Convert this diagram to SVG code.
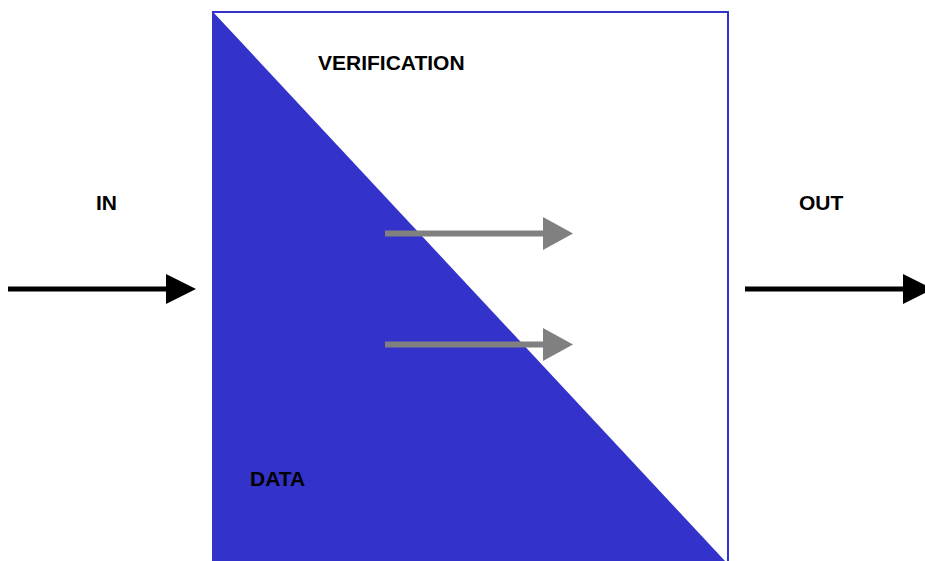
<svg xmlns="http://www.w3.org/2000/svg" width="925" height="561" viewBox="0 0 925 561">
<defs>
<style>
.lbl{font-family:"Liberation Sans",Arial,sans-serif;font-weight:bold;font-size:21px;fill:#000}
.blk{stroke:#000;stroke-width:5;fill:none}
.gry{stroke:#808080;stroke-width:6;fill:none}
</style>
</defs>
<rect width="925" height="561" fill="#fff"/>
<g id="block">
<rect x="213" y="12" width="515" height="560" fill="#fff" stroke="#3333cc" stroke-width="2"/>
<polygon points="213,12 725,561 213,561" fill="#3333cc"/>
</g>
<g id="verification"><text class="lbl" x="318" y="70">VERIFICATION</text></g>
<g id="data"><text class="lbl" x="250" y="486">DATA</text></g>
<g id="in"><text class="lbl" x="96" y="210">IN</text></g>
<g id="out"><text class="lbl" x="799" y="210">OUT</text></g>
<g id="connectors">
<line class="blk" x1="8" y1="289" x2="167" y2="289"/>
<polygon points="166,274 196,289 166,304" fill="#000"/>
<line class="blk" x1="745" y1="289" x2="904" y2="289"/>
<polygon points="903,274 933,289 903,304" fill="#000"/>
<line class="gry" x1="385" y1="233.5" x2="544" y2="233.5"/>
<polygon points="543,217 573,233.5 543,250" fill="#808080"/>
<line class="gry" x1="385" y1="344.5" x2="544" y2="344.5"/>
<polygon points="543,328 573,344.5 543,361" fill="#808080"/>
</g>
</svg>
